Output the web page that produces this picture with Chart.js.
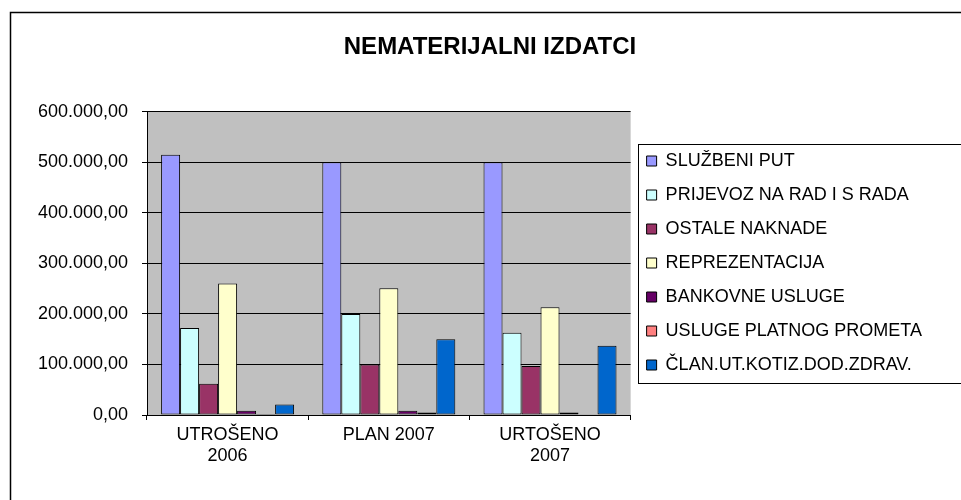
<!DOCTYPE html>
<html>
<head>
<meta charset="utf-8">
<script src="https://cdn.jsdelivr.net/npm/chart.js@4"></script>
<style>
  html, body { margin: 0; padding: 0; background: #fff; }
  #wrap { width: 961px; height: 500px; }
</style>
</head>
<body>
<div id="wrap"><canvas id="nematChart" width="961" height="500"></canvas></div>
<script>
// kategorije (os x)
const categories = [['UTROŠENO', '2006'], 'PLAN 2007', ['URTOŠENO', '2007']];

// vrijednosti po stavkama
const sluzbeniPut = [515000, 500000, 500000];
const prijevoz = [172000, 200000, 163000];
const ostaleNaknade = [62000, 100000, 97000];
const reprezentacija = [260000, 251000, 213000];
const bankovneUsluge = [8500, 8500, 5000];
const uslugePlatnog = [2000, 5000, 1500];
const clanarine = [21000, 150000, 137000];

const seriesNames = ['SLUŽBENI PUT', 'PRIJEVOZ NA RAD I S RADA', 'OSTALE NAKNADE', 'REPREZENTACIJA',
    'BANKOVNE USLUGE', 'USLUGE PLATNOG PROMETA', 'ČLAN.UT.KOTIZ.DOD.ZDRAV.'];
const seriesValues = [sluzbeniPut, prijevoz, ostaleNaknade, reprezentacija, bankovneUsluge, uslugePlatnog, clanarine];
const seriesColors = ['#9999FF', '#CCFFFF', '#993366', '#FFFFCC', '#660066', '#FF8080', '#0066CC'];

// os y
const yMin = 0;
const yMax = 600000;
const yStep = 100000;

const FONT = "'Liberation Sans', Arial, sans-serif";
const PAD_LEFT = 35;
const TITLE_CENTER = 490;

// 600000 -> "600.000,00"
const formatNumber = (v) => {
    const parts = Number(v).toFixed(2).split('.');
    return parts[0].replace(/\B(?=(\d{3})+(?!\d))/g, '.') + ',' + parts[1];
};

// siva pozadina, okvir, okvir legende i pomak naslova
const frames = {
    id: 'frames',
    afterLayout: (chart) => {
        const t = chart.titleBlock;
        if (t) {
            const shift = TITLE_CENTER - (t.left + t.right) / 2;
            t.left += shift;
            t.right += shift;
        }
    },
    beforeDraw: (chart) => {
        const { ctx, chartArea } = chart;
        ctx.save();
        ctx.fillStyle = '#C0C0C0';
        ctx.fillRect(chartArea.left, chartArea.top, chartArea.right - chartArea.left, chartArea.bottom - chartArea.top);
        ctx.restore();
    },
    afterDraw: (chart) => {
        const ctx = chart.ctx;
        ctx.save();
        ctx.strokeStyle = '#000';
        ctx.lineWidth = 1.5;
        ctx.strokeRect(10.5, 12.5, 1000, 600);
        const boxes = chart.legend.legendHitBoxes;
        if (boxes && boxes.length) {
            const first = boxes[0];
            const last = boxes[boxes.length - 1];
            const left = Math.round(first.left - 9) + 0.5;
            const top = Math.round(first.top - 8) + 0.5;
            const bottom = Math.round(last.top + last.height + 9) + 0.5;
            ctx.lineWidth = 1;
            ctx.strokeRect(left, top, 1000, bottom - top);
        }
        ctx.restore();
    }
};

const ctx = document.getElementById('nematChart').getContext('2d');

new Chart(ctx, {
    type: 'bar',
    data: {
        labels: categories,
        datasets: seriesNames.map((name, i) => ({
            label: name,
            data: seriesValues[i],
            backgroundColor: seriesColors[i],
            borderColor: '#000',
            borderWidth: 1,
            borderSkipped: false,
            categoryPercentage: 0.825,
            barPercentage: 1
        }))
    },
    options: {
        responsive: false,
        animation: false,
        layout: { padding: { top: 26, left: PAD_LEFT, right: 29, bottom: 0 } },
        plugins: {
            title: {
                display: true,
                text: 'NEMATERIJALNI IZDATCI',
                color: '#000',
                font: { family: FONT, size: 24, weight: 'bold' },
                padding: { top: 7, bottom: 50 }
            },
            legend: {
                position: 'right',
                maxWidth: 360,
                labels: {
                    color: '#000',
                    font: { family: FONT, size: 18 },
                    boxWidth: 10,
                    boxHeight: 10,
                    padding: 16
                }
            },
            tooltip: { enabled: false }
        },
        scales: {
            x: {
                grid: {
                    display: true,
                    drawOnChartArea: false,
                    offset: true,
                    color: '#000',
                    tickLength: 5
                },
                border: { color: '#000', width: 1 },
                ticks: {
                    color: '#000',
                    font: { family: FONT, size: 18 },
                    padding: 4,
                    maxRotation: 0
                },
                afterFit: (scale) => { scale.height = 85; }
            },
            y: {
                min: yMin,
                max: yMax,
                grid: { color: '#000', tickLength: 5 },
                border: { color: '#000', width: 1 },
                ticks: {
                    stepSize: yStep,
                    color: '#000',
                    font: { family: FONT, size: 18 },
                    padding: 14,
                    callback: (value) => formatNumber(value)
                },
                afterFit: (scale) => { scale.width = 147 - PAD_LEFT; }
            }
        }
    },
    plugins: [frames]
});
</script>
</body>
</html>
